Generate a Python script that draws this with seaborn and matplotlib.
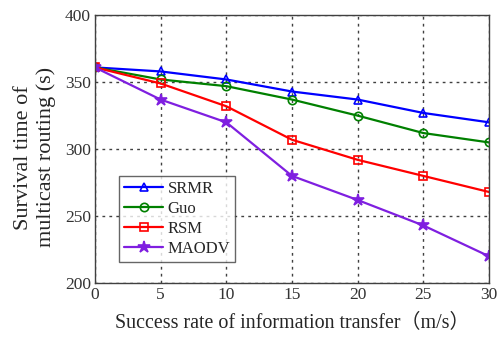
import pandas as pd
import matplotlib
matplotlib.use("Agg")
import matplotlib.pyplot as plt
import seaborn as sns

# Values
speeds = [0, 5, 10, 15, 20, 25, 30]
srmr = [361, 358, 352, 343, 337, 327, 320]
guo = [361, 352, 347, 337, 325, 312, 305]
rsm = [361, 349, 332, 307, 292, 280, 268]
maodv = [361, 337, 320, 280, 262, 243, 220]

series = {"SRMR": srmr, "Guo": guo, "RSM": rsm, "MAODV": maodv}
colors = {"SRMR": "#0000ff", "Guo": "#008000", "RSM": "#ff0000", "MAODV": "#7f1fe0"}
markers = {"SRMR": "^", "Guo": "o", "RSM": "s", "MAODV": "*"}

sns.set_style("white")
plt.rcParams["font.family"] = ["Liberation Serif", "DejaVu Serif"]

rows = []
for name, vals in series.items():
    for x, y in zip(speeds, vals):
        rows.append({"speed": x, "time": y, "method": name})
df = pd.DataFrame(rows)

fig = plt.figure(figsize=(4.97, 3.37), dpi=100)
ax = fig.add_axes([0.191, 0.16, 0.793, 0.795])

for name in series:
    sub = df[df["method"] == name]
    filled = name == "MAODV"
    sns.lineplot(data=sub, x="speed", y="time", ax=ax, color=colors[name],
                 marker=markers[name], markersize=9 if filled else 6,
                 markerfacecolor=colors[name] if filled else "none",
                 markeredgecolor=colors[name], markeredgewidth=1.2,
                 linewidth=1.6, label=name)

ax.set_xlim(0, 30)
ax.set_ylim(200, 400)
ax.set_xticks(speeds)
ax.set_yticks([200, 250, 300, 350, 400])
ax.grid(True, linestyle=(0, (2, 3)), color="#404040", linewidth=1.0)
for s in ax.spines.values():
    s.set_color("#404040")
    s.set_linewidth(1.0)
ax.tick_params(labelsize=12.5, colors="#333333", length=0, pad=3)

ax.set_xlabel("Success rate of information transfer\uff08m/s\uff09", fontsize=14.4,
              family=["Liberation Serif", "Noto Sans CJK SC"], labelpad=8)
ax.set_ylabel("Survival time of\nmulticast routing (s)", fontsize=16,
              linespacing=1.2)
ax.yaxis.set_label_coords(-0.10, 0.47)

leg = ax.legend(loc="lower left", bbox_to_anchor=(0.062, 0.078), fontsize=12,
                frameon=True, fancybox=False, edgecolor="#404040",
                handlelength=2.3, handletextpad=0.3, labelspacing=0.25,
                borderpad=0.3, borderaxespad=0)
leg.get_frame().set_linewidth(1.0)

fig.savefig("out.png", dpi=100)
